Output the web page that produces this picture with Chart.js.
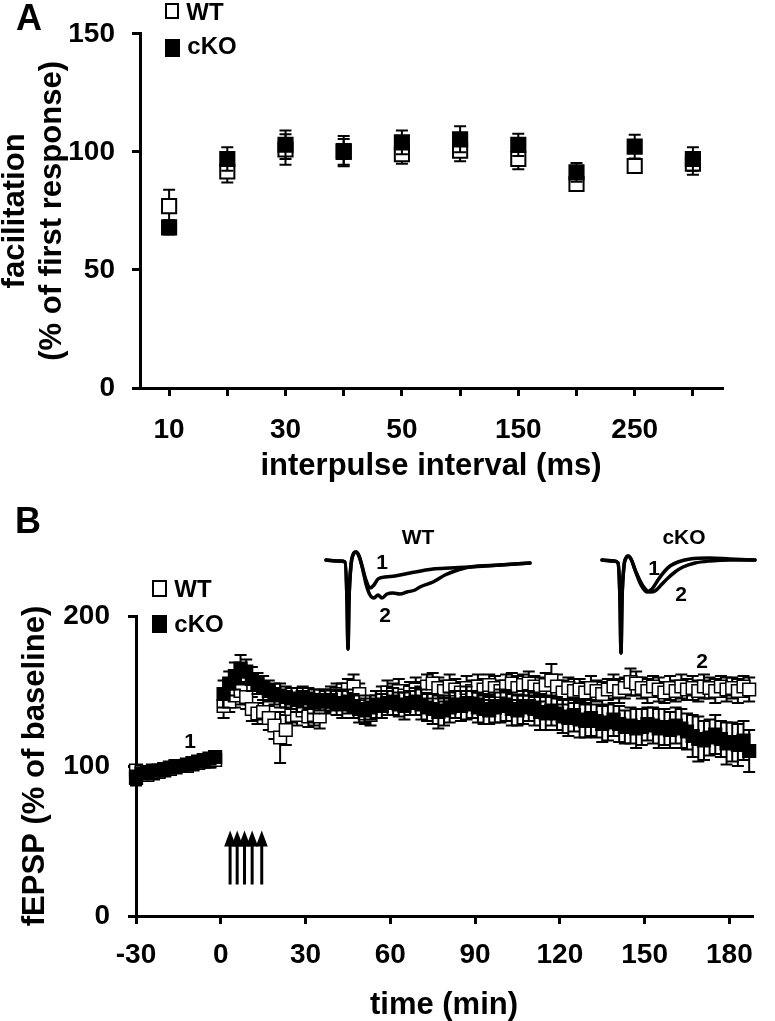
<!DOCTYPE html>
<html>
<head>
<meta charset="utf-8">
<script src="https://cdn.jsdelivr.net/npm/chart.js@4"></script>
<style>
html,body{margin:0;padding:0;background:#fff;}
#page{position:relative;width:775px;height:1021px;overflow:hidden;font-family:"Liberation Sans",Arial,Helvetica,sans-serif;font-weight:bold;color:#000;background:#fff;}
canvas{position:absolute;}
.t{position:absolute;line-height:1;white-space:nowrap;transform:translate(-50%,-50%);}
.box{position:absolute;border:2px solid #000;box-sizing:border-box;}
</style>
</head>
<body>
<div id="page">
  <canvas id="chartA" width="775" height="500" style="left:0;top:0;width:775px;height:500px"></canvas>
  <canvas id="chartB" width="775" height="521" style="left:0;top:500px;width:775px;height:521px"></canvas>
  <canvas id="insetWT" width="215" height="120" style="left:320px;top:540px;width:215px;height:120px"></canvas>
  <canvas id="insetCKO" width="165" height="120" style="left:595px;top:540px;width:165px;height:120px"></canvas>

  <div class="t" style="left:29px;top:18px;font-size:36px">A</div>
  <div class="box" style="left:165px;top:3px;width:14px;height:16px;background:#fff"></div>
  <div class="t" style="left:205px;top:12px;font-size:24px">WT</div>
  <div class="box" style="left:165px;top:39px;width:15px;height:18px;background:#000"></div>
  <div class="t" style="left:212px;top:46px;font-size:24px">cKO</div>

  <div class="t" style="left:28px;top:521px;font-size:36px">B</div>
  <div class="box" style="left:152px;top:580px;width:15px;height:17px;background:#fff"></div>
  <div class="t" style="left:193px;top:589px;font-size:24px">WT</div>
  <div class="box" style="left:152px;top:615px;width:15px;height:18px;background:#000"></div>
  <div class="t" style="left:199px;top:624px;font-size:24px">cKO</div>

  <div class="t" style="left:418px;top:536px;font-size:21px">WT</div>
  <div class="t" style="left:684px;top:536px;font-size:21px">cKO</div>
  <div class="t" style="left:382px;top:561px;font-size:21px">1</div>
  <div class="t" style="left:385px;top:614px;font-size:21px">2</div>
  <div class="t" style="left:654px;top:567px;font-size:21px">1</div>
  <div class="t" style="left:681px;top:593px;font-size:21px">2</div>
  <div class="t" style="left:190px;top:740px;font-size:21px">1</div>
  <div class="t" style="left:702px;top:660px;font-size:21px">2</div>
</div>
<script>
// ---------- Panel A: paired-pulse facilitation ----------
const ppfIntervals = ['10','20','30','40','50','100','150','200','250','300'];
const ppfShown = ['10','30','50','150','250'];
const ppfWT     = [77, 91.7, 101, 100, 99, 100.5, 97, 86.4, 94, 95];
const ppfWTsem  = [7, 4.7, 6.5, 5.5, 4, 4.5, 4.4, 2, 2, 4.7];
const ppfCKO    = [68, 97, 103, 100.3, 104, 105.3, 103, 91.3, 102.2, 97];
const ppfCKOsem = [3, 5, 6, 6.4, 5, 5.5, 4.7, 4, 5, 5];

// ---------- Panel B: LTP time course ----------
const ltpTimes = [-30,-28,-26,-24,-22,-20,-18,-16,-14,-12,-10,-8,-6,-4,-2,
  1,3,5,7,9,11,13,15,17,19,
  21,23,25,27,29,31,33,35,37,39,
  41,43,45,47,49,51,53,55,57,59,
  61,63,65,67,69,71,73,75,77,79,
  81,83,85,87,89,91,93,95,97,99,
  101,103,105,107,109,111,113,115,117,119,
  121,123,125,127,129,131,133,135,137,139,
  141,143,145,147,149,151,153,155,157,159,
  161,163,165,167,169,171,173,175,177,179,
  181,183,185,187];
const ltpWT = [97,96,94,95,96,97,98,99,100,100,101,102,103,103,104,
  140,143,147,150,146,138,135,136,132,127,
  119,124,138,134,137,133,134,133,143,146,
  148,147,151,153,148,135,134,143,146,149,
  148,150,147,149,151,149,153,155,152,150,
  153,151,149,152,150,153,151,154,152,150,
  153,155,152,154,155,153,151,154,157,153,
  149,152,150,151,149,152,150,148,151,153,
  150,152,156,155,152,150,153,151,149,152,
  150,153,151,152,150,153,152,150,153,151,
  152,150,153,151];
const ltpWTsem = [3,3,3,3,3,3,3,3,3,3,3,3,4,4,4,
  8,7,8,9,8,8,7,8,8,9,
  17,10,9,7,7,7,7,8,7,7,
  7,8,7,8,7,7,7,7,7,8,
  7,8,7,7,8,7,8,7,7,7,
  8,7,7,8,7,8,7,7,8,7,
  8,7,8,7,8,7,8,8,11,8,
  8,7,8,7,7,8,7,8,7,8,
  8,7,9,8,7,8,7,8,7,8,
  7,8,7,8,7,8,7,8,7,8,
  7,8,7,8];
const ltpCKO = [92,95,96,97,97,98,99,100,100,101,102,103,104,105,106,
  148,155,160,165,163,158,155,152,150,148,
  147,146,145,144,146,145,143,144,143,144,
  142,141,143,140,138,137,139,141,140,142,
  143,141,140,142,143,141,139,138,136,137,
  139,141,140,142,141,139,138,137,139,140,
  140,138,137,139,140,138,136,135,137,135,
  133,132,134,131,130,132,130,128,129,131,
  128,126,127,125,126,128,127,125,126,124,
  127,125,123,120,118,117,119,121,118,115,
  116,114,117,110];
const ltpCKOsem = [5,3,3,3,3,3,3,3,3,3,3,3,3,3,3,
  9,8,9,9,8,8,7,8,7,7,
  8,7,7,8,7,7,8,7,8,7,
  8,9,8,8,9,8,8,9,8,8,
  9,8,9,8,9,10,9,10,11,10,
  10,9,10,11,9,10,10,9,10,11,
  10,11,10,11,10,11,12,11,10,11,
  11,12,11,12,11,12,11,12,12,11,
  12,11,12,13,12,11,12,13,12,12,
  12,13,12,14,15,13,12,13,12,14,
  13,14,13,14];

// tetanus arrows (time in min, base/tip in % of baseline)
const arrowTimes = [3.3, 5.8, 8.4, 11.1, 14.5];
const arrowBase = 21;
const arrowTip = 57;

// ---------- Inset traces: [time (ms), amplitude (mV)] ----------
const wtTrace1 = [[0.6,0],[2.0,-0.04],[2.5,-0.08],[2.7,-1.6],[2.8,-3.56],[2.9,-1.6],[3.1,-0.2],[3.3,0.2],[3.6,0.32],[3.9,0.16],[4.2,-0.24],[4.6,-0.8],[5.0,-1.12],[5.4,-1.0],[5.8,-0.76],[6.5,-0.68],[7.5,-0.64],[9.0,-0.52],[11.3,-0.36],[13.0,-0.32],[15.0,-0.28],[18.0,-0.2],[21.0,-0.12]];
const wtTrace2 = [[0.6,0],[2.0,-0.04],[2.5,-0.08],[2.7,-1.6],[2.8,-3.56],[2.9,-1.6],[3.1,-0.2],[3.3,0.2],[3.6,0.32],[3.9,0.16],[4.2,-0.24],[4.6,-0.96],[5.0,-1.4],[5.4,-1.52],[5.8,-1.4],[6.2,-1.52],[6.7,-1.36],[7.3,-1.32],[8.0,-1.36],[8.7,-1.28],[9.5,-1.2],[10.0,-1.08],[11.3,-0.88],[12.5,-0.6],[13.5,-0.44],[15.0,-0.28],[18.0,-0.2],[21.0,-0.12]];
const ckoTrace1 = [[0.7,0],[1.9,-0.04],[2.3,-0.12],[2.5,-1.6],[2.6,-3.72],[2.7,-1.6],[2.9,-0.24],[3.1,0.08],[3.3,0.16],[3.6,0.04],[4.0,-0.4],[4.6,-1.0],[5.2,-1.28],[5.7,-1.16],[6.3,-0.8],[6.9,-0.48],[7.5,-0.24],[8.3,-0.08],[9.5,0.04],[11.5,0.08],[13.5,0.04],[16.0,0]];
const ckoTrace2 = [[0.7,0],[1.9,-0.04],[2.3,-0.12],[2.5,-1.6],[2.6,-3.72],[2.7,-1.6],[2.9,-0.24],[3.1,0.08],[3.3,0.16],[3.6,0.04],[4.1,-0.48],[4.8,-1.04],[5.5,-1.28],[6.0,-1.24],[6.7,-0.96],[7.3,-0.72],[8.0,-0.48],[8.8,-0.28],[10.0,-0.12],[11.5,-0.04],[13.5,0],[16.0,0]];

// ---------- shared setup ----------
Chart.defaults.font.family = '"Liberation Sans", Arial, Helvetica, sans-serif';
Chart.defaults.font.weight = 'bold';
Chart.defaults.color = '#000';

const errorBarPlugin = {
  id: 'errorBars',
  beforeDatasetDraw(chart, args, opts) {
    const ds = chart.data.datasets[args.index];
    if (!ds.errors) return;
    const ctx = chart.ctx;
    const yScale = chart.scales.y;
    const half = opts.capHalf || 6;
    ctx.save();
    ctx.strokeStyle = '#000';
    ctx.lineWidth = opts.lineWidth || 2;
    args.meta.data.forEach((pt, i) => {
      const raw = ds.data[i];
      const v = (typeof raw === 'number') ? raw : raw.y;
      const e = ds.errors[i];
      const px = pt.x;
      const yt = yScale.getPixelForValue(v + e);
      const yb = yScale.getPixelForValue(v - e);
      ctx.beginPath();
      ctx.moveTo(px, yt); ctx.lineTo(px, yb);
      ctx.moveTo(px - half, yt); ctx.lineTo(px + half, yt);
      ctx.moveTo(px - half, yb); ctx.lineTo(px + half, yb);
      ctx.stroke();
    });
    ctx.restore();
  }
};

const arrowPlugin = {
  id: 'tetanusArrows',
  afterDatasetsDraw(chart, args, opts) {
    if (!opts.times) return;
    const ctx = chart.ctx;
    const xs = chart.scales.x, ys = chart.scales.y;
    ctx.save();
    ctx.strokeStyle = '#000';
    ctx.fillStyle = '#000';
    ctx.lineWidth = 3;
    opts.times.forEach(t => {
      const px = xs.getPixelForValue(t);
      const yb = ys.getPixelForValue(opts.base);
      const yt = ys.getPixelForValue(opts.tip);
      ctx.beginPath();
      ctx.moveTo(px, yb); ctx.lineTo(px, yt + 12);
      ctx.stroke();
      ctx.beginPath();
      ctx.moveTo(px, yt);
      ctx.lineTo(px - 6, yt + 16);
      ctx.lineTo(px + 6, yt + 16);
      ctx.closePath();
      ctx.fill();
    });
    ctx.restore();
  }
};

const axisGrid = {drawOnChartArea: false, drawTicks: true, tickLength: 8, color: '#000', lineWidth: 3};
const axisBorder = {display: true, color: '#000', width: 3};
const tickFont = {size: 28, weight: 'bold'};

// ---------- Chart A ----------
new Chart(document.getElementById('chartA'), {
  type: 'line',
  data: {
    labels: ppfIntervals,
    datasets: [
      {label: 'WT', data: ppfWT, errors: ppfWTsem, showLine: false, pointStyle: 'rect', pointRadius: 10,
       pointBackgroundColor: '#fff', pointBorderColor: '#000', pointBorderWidth: 2, order: 2, clip: false},
      {label: 'cKO', data: ppfCKO, errors: ppfCKOsem, showLine: false, pointStyle: 'rect', pointRadius: 10,
       pointBackgroundColor: '#000', pointBorderColor: '#000', pointBorderWidth: 2, order: 1, clip: false}
    ]
  },
  options: {
    responsive: false, animation: false, devicePixelRatio: 1, events: [],
    layout: {padding: {top: 32, right: 53, bottom: 0, left: 0}},
    plugins: {legend: {display: false}, tooltip: {enabled: false}, errorBars: {capHalf: 6, lineWidth: 2}},
    scales: {
      x: {
        type: 'category', offset: true,
        grid: Object.assign({offset: false}, axisGrid),
        border: axisBorder,
        ticks: {autoSkip: false, maxRotation: 0, padding: 17, color: '#000', font: tickFont,
          callback: (v, i) => ppfShown.includes(ppfIntervals[i]) ? ppfIntervals[i] : ''},
        title: {display: true, text: 'interpulse interval (ms)', color: '#000',
          font: {size: 31, weight: 'bold', lineHeight: 1}, padding: {top: 0, bottom: 18}},
        afterFit: s => { s.height = 112; }
      },
      y: {
        min: 0, max: 150,
        ticks: {stepSize: 50, padding: 17, color: '#000', font: tickFont},
        grid: axisGrid,
        border: axisBorder,
        title: {display: true, text: ['facilitation', '(% of first response)'], color: '#000',
          font: {size: 31, weight: 'bold', lineHeight: 1.2}, padding: {top: -3, bottom: 0}},
        afterFit: s => { s.width = 140; }
      }
    }
  },
  plugins: [errorBarPlugin]
});

// ---------- Chart B ----------
new Chart(document.getElementById('chartB'), {
  type: 'scatter',
  data: {
    datasets: [
      {label: 'WT', data: ltpTimes.map((t, i) => ({x: t, y: ltpWT[i]})), errors: ltpWTsem,
       pointStyle: 'rect', pointRadius: 9, pointBackgroundColor: '#fff', pointBorderColor: '#000',
       pointBorderWidth: 1.5, order: 2, clip: false},
      {label: 'cKO', data: ltpTimes.map((t, i) => ({x: t, y: ltpCKO[i]})), errors: ltpCKOsem,
       pointStyle: 'rect', pointRadius: 9, pointBackgroundColor: '#000', pointBorderColor: '#000',
       pointBorderWidth: 1.5, order: 1, clip: false}
    ]
  },
  options: {
    responsive: false, animation: false, devicePixelRatio: 1, events: [],
    layout: {padding: {top: 116, right: 23, bottom: 0, left: 0}},
    plugins: {legend: {display: false}, tooltip: {enabled: false},
      errorBars: {capHalf: 6, lineWidth: 2},
      tetanusArrows: {times: arrowTimes, base: arrowBase, tip: arrowTip}},
    scales: {
      x: {
        type: 'linear', min: -30, max: 188,
        grid: axisGrid, border: axisBorder,
        ticks: {stepSize: 30, includeBounds: false, maxRotation: 0, padding: 14, color: '#000', font: tickFont},
        title: {display: true, text: 'time (min)', color: '#000',
          font: {size: 31, weight: 'bold', lineHeight: 1}, padding: {top: 0, bottom: 0}},
        afterFit: s => { s.height = 105; }
      },
      y: {
        min: 0, max: 200,
        ticks: {stepSize: 100, padding: 18, color: '#000', font: tickFont},
        grid: axisGrid, border: axisBorder,
        title: {display: true, text: 'fEPSP (% of baseline)', color: '#000',
          font: {size: 31, weight: 'bold', lineHeight: 1.2}, padding: {top: 17, bottom: 0}},
        afterFit: s => { s.width = 136; }
      }
    }
  },
  plugins: [errorBarPlugin, arrowPlugin]
});

// ---------- Insets ----------
function makeInset(id, traces, xMax) {
  new Chart(document.getElementById(id), {
    type: 'scatter',
    data: {
      datasets: traces.map(tr => ({
        data: tr.map(p => ({x: p[0], y: p[1]})),
        showLine: true, borderColor: '#000', borderWidth: 3.5, pointRadius: 0,
        cubicInterpolationMode: 'monotone', borderJoinStyle: 'round', borderCapStyle: 'round', clip: false
      }))
    },
    options: {
      responsive: false, animation: false, devicePixelRatio: 1, events: [],
      layout: {padding: 0},
      plugins: {legend: {display: false}, tooltip: {enabled: false}},
      scales: {
        x: {type: 'linear', min: 0, max: xMax, display: false},
        y: {type: 'linear', min: -4, max: 0.8, display: false}
      }
    }
  });
}
makeInset('insetWT', [wtTrace1, wtTrace2], 21.5);
makeInset('insetCKO', [ckoTrace1, ckoTrace2], 16.5);
</script>
</body>
</html>
